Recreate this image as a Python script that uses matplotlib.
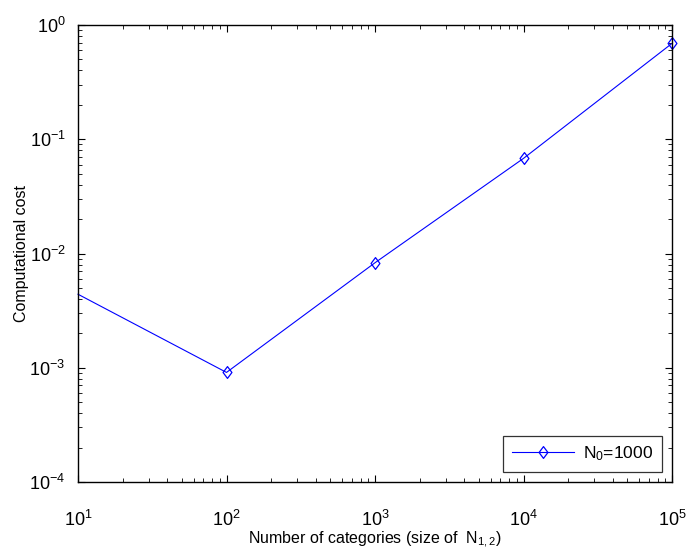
import matplotlib
matplotlib.use("Agg")
import matplotlib.pyplot as plt
from matplotlib.ticker import LogLocator, NullFormatter
from matplotlib.path import Path

plt.rcParams['font.family'] = ['Liberation Sans', 'DejaVu Sans']
plt.rcParams['mathtext.fontset'] = 'custom'
plt.rcParams['mathtext.rm'] = 'Liberation Sans'
plt.rcParams['mathtext.it'] = 'Liberation Sans'

categories = [10, 100, 1000, 10000, 100000]
cost = [4.4e-3, 9.1e-4, 8.3e-3, 6.8e-2, 0.69]
series_label = r"$\mathregular{N_0}$=1000"
x_ticks = [10, 100, 1000, 10000, 100000]
y_ticks = [1e-4, 1e-3, 1e-2, 1e-1, 1e0]

diamond = Path([(0, -1), (0.75, 0), (0, 1), (-0.75, 0), (0, -1)],
               [Path.MOVETO, Path.LINETO, Path.LINETO, Path.LINETO, Path.CLOSEPOLY])

fig = plt.figure(figsize=(6.86, 5.55), dpi=100)
ax = fig.add_axes([78/686, 1-482/555, (672-78)/686, (482-25)/555])

ax.plot(categories, cost, color=(0, 0, 1), linewidth=0.8, marker=diamond,
        markersize=8.5, markerfacecolor='none', markeredgecolor=(0, 0, 1),
        markeredgewidth=0.9, markevery=[1, 2, 3, 4], label=series_label,
        clip_on=False)

ax.set_xscale('log')
ax.set_yscale('log')
ax.set_xlim(10, 1e5)
ax.set_ylim(1e-4, 1)
ax.set_xticks(x_ticks)
ax.set_yticks(y_ticks)
ax.xaxis.set_minor_locator(LogLocator(base=10, subs=range(2, 10)))
ax.yaxis.set_minor_locator(LogLocator(base=10, subs=range(2, 10)))
ax.xaxis.set_minor_formatter(NullFormatter())
ax.yaxis.set_minor_formatter(NullFormatter())

ax.tick_params(which='both', direction='in', top=True, right=True, labelsize=13)
ax.tick_params(which='major', length=5, width=0.8)
ax.tick_params(which='minor', length=3, width=0.6)
ax.tick_params(axis='x', which='major', pad=20)
ax.tick_params(axis='y', which='major', pad=9)
for s in ax.spines.values():
    s.set_linewidth(1.0)

ax.set_xlabel(r"Number of categories (size of  $\mathregular{N_{1,2}}$)", fontsize=11.5, labelpad=0)
ax.set_ylabel("Computational cost", fontsize=11.5, labelpad=0)

leg = ax.legend(loc='lower right', fontsize=12.5, frameon=True, fancybox=False,
                edgecolor='black', borderaxespad=0.6, handlelength=3.6,
                borderpad=0.5, handletextpad=0.5)
leg.get_frame().set_linewidth(0.9)

fig.savefig("out.png", dpi=100)
